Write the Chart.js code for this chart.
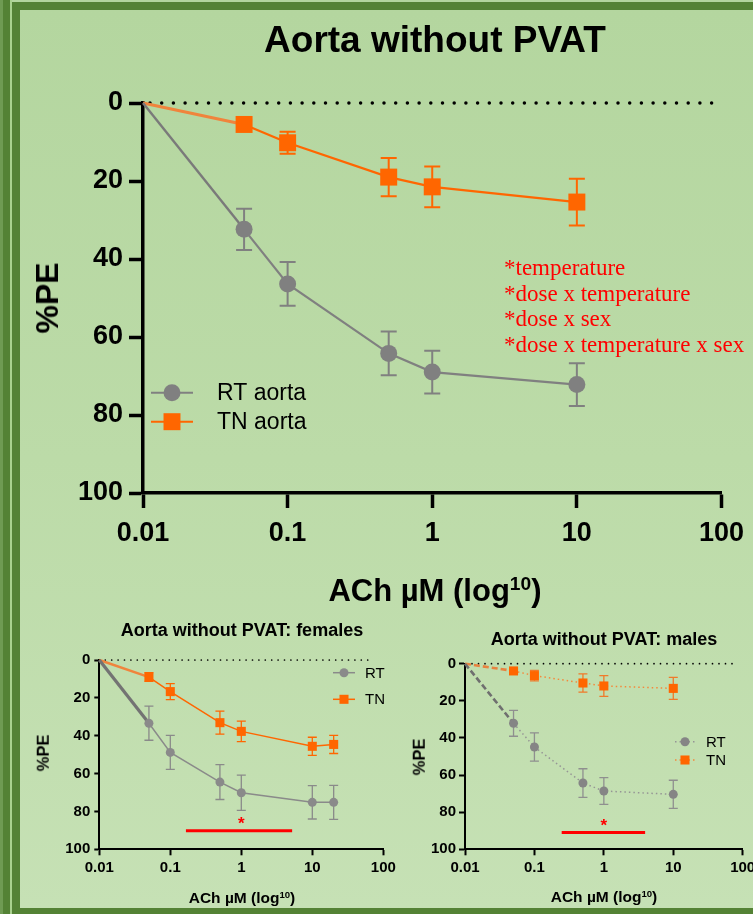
<!DOCTYPE html>
<html>
<head>
<meta charset="utf-8">
<script src="https://cdn.jsdelivr.net/npm/chart.js@4.4.1/dist/chart.umd.min.js"></script>
<style>
  body { margin: 0; width: 753px; height: 914px; overflow: hidden; position: relative;
         font-family: "Liberation Sans", Arial, sans-serif; background: #b3d59e; }
  .bar { position: absolute; top: 0; bottom: 0; }
  #panel { position: absolute; left: 12px; top: 2px; right: 0; bottom: 0;
           border-left: 8px solid #548235; border-top: 8px solid #548235; border-bottom: 6px solid #548235;
           background: linear-gradient(#b4d69f, #bcdba8 50%, #c6e1b5); }
  canvas { position: absolute; }
  .txt { position: absolute; color: #000; font-weight: bold; white-space: nowrap; line-height: 1; }
  .ctr { text-align: center; }
  .rot { transform: translate(-50%, -50%) rotate(-90deg); }
  sup { font-size: 0.62em; vertical-align: 0; position: relative; top: -0.55em; }
  #notes { position: absolute; left: 504px; top: 255px; color: #ff0000;
           font-family: "Liberation Serif", "DejaVu Serif", serif; font-size: 23px; line-height: 25.7px; }
</style>
</head>
<body>
<div class="bar" style="left:0;width:3px;background:#6f9b53"></div>
<div class="bar" style="left:3px;width:7px;background:#548235"></div>
<div class="bar" style="left:10px;width:2px;background:#a9d18e"></div>
<div id="panel"></div>

<canvas id="main" width="753" height="560" style="left:0;top:0"></canvas>
<canvas id="fem" width="400" height="290" style="left:0;top:600px"></canvas>
<canvas id="male" width="380" height="290" style="left:395px;top:600px"></canvas>

<div class="txt ctr" style="left:135px;width:600px;top:21px;font-size:37px">Aorta without PVAT</div>
<div class="txt rot" style="left:47px;top:298px;font-size:32px">%PE</div>
<div class="txt ctr" style="left:135px;width:600px;top:575px;font-size:31px">ACh µM (log<sup>10</sup>)</div>
<div id="notes"></div>

<div class="txt ctr" style="left:42px;width:400px;top:621px;font-size:18px">Aorta without PVAT: females</div>
<div class="txt rot" style="left:43px;top:753px;font-size:16.5px">%PE</div>
<div class="txt ctr" style="left:42px;width:400px;top:890px;font-size:15.5px">ACh µM (log<sup>10</sup>)</div>

<div class="txt ctr" style="left:404px;width:400px;top:630px;font-size:18px">Aorta without PVAT: males</div>
<div class="txt rot" style="left:419px;top:757px;font-size:16.5px">%PE</div>
<div class="txt ctr" style="left:404px;width:400px;top:889px;font-size:15.5px">ACh µM (log<sup>10</sup>)</div>

<script>
// ---- data ----
const xTicks = [0.01, 0.1, 1, 10, 100];
const xTickLabels = ['0.01', '0.1', '1', '10', '100'];
const yTicks = [0, 20, 40, 60, 80, 100];

const mainDoses = [0.01, 0.05, 0.1, 0.5, 1, 10];
const mainRT = [0, 32.4, 46.4, 64.2, 69.0, 72.2];
const mainRTerr = [0, 5.3, 5.6, 5.6, 5.5, 5.5];
const mainTN = [0, 5.5, 10.2, 19.0, 21.5, 25.4];
const mainTNerr = [0, 1, 2.8, 4.9, 5.2, 6.0];

const femDoses = [0.01, 0.05, 0.1, 0.5, 1, 10, 20];
const femRT = [0, 33.4, 48.8, 64.5, 70.1, 75.2, 75.2];
const femRTerr = [0, 9, 9, 9.2, 9.3, 8.8, 9];
const femTN = [0, 9, 16.7, 33.1, 37.7, 45.6, 44.6];
const femTNerr = [0, 2.3, 4.2, 6.1, 5.4, 4.8, 4.8];

const maleDoses = [0.01, 0.05, 0.1, 0.5, 1, 10];
const maleRT = [0, 32.1, 44.9, 64.3, 68.6, 70.4];
const maleRTerr = [0, 7, 7.6, 7.7, 7.2, 7.6];
const maleTN = [0, 3.9, 6.4, 10.4, 12, 13.3];
const maleTNerr = [0, 1, 2.8, 4.9, 5.6, 5.9];

// significance bar: from dose, to dose, %PE level, star at dose
const femSig = [0.166, 5.2, 90.2, 1];
const maleSig = [0.247, 3.93, 91, 1];

const notes = ['*temperature', '*dose x temperature', '*dose x sex', '*dose x temperature x sex'];

document.getElementById('notes').innerHTML = notes.map(n => '<div>' + n + '</div>').join('');

const ORANGE = '#ff6600';
const GREY = '#808080';
const FONT = '"Liberation Sans", Arial, sans-serif';
Chart.defaults.font.family = FONT;

const pts = (xs, ys) => xs.map((x, i) => ({ x: x, y: ys[i] }));

function drawMark(ctx, style, x, y, r) {
    ctx.beginPath();
    if (style === 'rect') {
        const s = r * Math.SQRT1_2;
        ctx.rect(x - s, y - s, 2 * s, 2 * s);
    } else {
        ctx.arc(x, y, r, 0, Math.PI * 2);
    }
    ctx.fill();
}

// error bars, dotted zero line, significance bar and legend
const extras = {
    id: 'extras',
    beforeDatasetsDraw(chart, args, o) {
        const { ctx, chartArea: a, scales: { x, y } } = chart;
        ctx.save();
        const y0 = y.getPixelForValue(0);
        ctx.strokeStyle = '#000';
        ctx.lineWidth = o.dotSize;
        ctx.lineCap = 'round';
        ctx.setLineDash([0, o.dotGap]);
        ctx.beginPath();
        ctx.moveTo(a.left + o.dotStart, y0);
        ctx.lineTo(a.right - o.dotEnd, y0);
        ctx.stroke();
        ctx.setLineDash([]);
        ctx.lineCap = 'butt';

        chart.data.datasets.forEach((ds, i) => {
            const meta = chart.getDatasetMeta(i);
            ctx.strokeStyle = ds.barColor;
            ctx.lineWidth = o.barWidth;
            meta.data.forEach((pt, j) => {
                const e = ds.errors[j];
                if (!e) return;
                const v = ds.data[j].y;
                const t = y.getPixelForValue(v - e), b = y.getPixelForValue(v + e);
                ctx.beginPath();
                ctx.moveTo(pt.x, t); ctx.lineTo(pt.x, b);
                ctx.moveTo(pt.x - o.cap, t); ctx.lineTo(pt.x + o.cap, t);
                ctx.moveTo(pt.x - o.cap, b); ctx.lineTo(pt.x + o.cap, b);
                ctx.stroke();
            });
        });
        ctx.restore();
    },
    afterDatasetsDraw(chart, args, o) {
        const { ctx, scales: { x, y } } = chart;
        ctx.save();
        if (o.sig) {
            const ys = y.getPixelForValue(o.sig[2]);
            ctx.strokeStyle = '#ff0000';
            ctx.lineWidth = 3;
            ctx.beginPath();
            ctx.moveTo(x.getPixelForValue(o.sig[0]), ys);
            ctx.lineTo(x.getPixelForValue(o.sig[1]), ys);
            ctx.stroke();
            ctx.fillStyle = '#ff0000';
            ctx.font = 'bold 17px ' + FONT;
            ctx.textAlign = 'center';
            ctx.textBaseline = 'middle';
            ctx.fillText('*', x.getPixelForValue(o.sig[3]), ys - 6);
        }
        const L = o.legend;
        chart.data.datasets.forEach((ds, i) => {
            const yy = L.y + i * L.gap;
            ctx.strokeStyle = ds.legendLine;
            ctx.lineWidth = L.lineWidth;
            ctx.setLineDash(ds.legendDash || []);
            ctx.beginPath();
            ctx.moveTo(L.x, yy);
            ctx.lineTo(L.x + L.len, yy);
            ctx.stroke();
            ctx.setLineDash([]);
            ctx.fillStyle = ds.legendMark;
            drawMark(ctx, ds.pointStyle, L.x + L.len / 2, yy, ds.markR);
            ctx.fillStyle = '#000';
            ctx.font = L.font + 'px ' + FONT;
            ctx.textAlign = 'left';
            ctx.textBaseline = 'middle';
            ctx.fillText(ds.label, L.textX, yy + 1);
        });
        ctx.restore();
    }
};

function scales(s) {
    return {
        x: {
            type: 'logarithmic', min: 0.01, max: 100,
            afterBuildTicks: sc => { sc.ticks = xTicks.map(v => ({ value: v })); },
            afterFit: sc => { sc.height = s.xh; },
            ticks: { callback: (v, i) => xTickLabels[i], autoSkip: false, maxRotation: 0,
                     font: { size: s.fs, weight: 'bold' }, color: '#000', padding: s.xpad },
            grid: { drawOnChartArea: false, tickLength: s.xtl, tickWidth: s.aw, tickColor: '#000' },
            border: { color: '#000', width: s.aw }
        },
        y: {
            type: 'linear', reverse: true, min: 0, max: 100,
            afterBuildTicks: sc => { sc.ticks = yTicks.map(v => ({ value: v })); },
            afterFit: sc => { sc.width = s.yw; },
            ticks: { font: { size: s.fs, weight: 'bold' }, color: '#000', padding: s.ypad },
            grid: { drawOnChartArea: false, tickLength: s.ytl, tickWidth: s.aw, tickColor: '#000' },
            border: { color: '#000', width: s.aw }
        }
    };
}

function series(label, xs, ys, errs, st) {
    return {
        label: label, data: pts(xs, ys), errors: errs, markR: st.r,
        borderColor: st.color, barColor: st.bar || st.color,
        legendLine: st.color, legendDash: st.dash, legendMark: st.mark || st.color,
        borderWidth: st.lw, borderDash: st.dash || [],
        pointStyle: st.shape, pointBackgroundColor: st.mark || st.color, pointBorderWidth: 0,
        pointRadius: ctx => ctx.dataIndex === 0 ? 0 : st.r,   // no marker at the origin
        pointHoverRadius: ctx => ctx.dataIndex === 0 ? 0 : st.r,
        segment: {
            borderColor: c => c.p0DataIndex === 0 ? st.firstColor : undefined,
            borderWidth: c => c.p0DataIndex === 0 ? st.firstWidth : undefined,
            borderDash: c => c.p0DataIndex === 0 ? st.firstDash : undefined
        },
        tension: 0, clip: false
    };
}

function build(id, datasets, s, extra) {
    new Chart(document.getElementById(id), {
        type: 'line',
        data: { datasets: datasets },
        options: {
            responsive: false, animation: false, events: [],
            layout: { padding: s.pad },
            scales: scales(s),
            plugins: { legend: { display: false }, tooltip: { enabled: false }, extras: extra }
        },
        plugins: [extras]
    });
}

// main chart
build('main', [
    series('RT aorta', mainDoses, mainRT, mainRTerr,
        { color: GREY, lw: 2.2, shape: 'circle', r: 8.5, firstColor: '#7a7a7a', firstWidth: 2.4, firstDash: [] }),
    series('TN aorta', mainDoses, mainTN, mainTNerr,
        { color: ORANGE, lw: 2.2, shape: 'rect', r: 12, firstColor: '#f0843c', firstWidth: 3, firstDash: [] })
], { pad: { top: 103, left: 0, right: 27, bottom: 0 }, xh: 67, yw: 143, fs: 27, aw: 3.5,
     xtl: 15, ytl: 14, xpad: 9, ypad: 6 },
   { dotSize: 3.5, dotGap: 11.7, dotStart: 7, dotEnd: 8, barWidth: 2, cap: 8,
     legend: { x: 151, y: 392.7, gap: 29, len: 42, lineWidth: 2, font: 23, textX: 217 } });

// females
build('fem', [
    series('RT', femDoses, femRT, femRTerr,
        { color: '#8a8a8a', lw: 1.5, shape: 'circle', r: 4.5, firstColor: '#737373', firstWidth: 3.2, firstDash: [] }),
    series('TN', femDoses, femTN, femTNerr,
        { color: ORANGE, lw: 1.5, shape: 'rect', r: 6.4, firstColor: '#f0843c', firstWidth: 2.4, firstDash: [] })
], { pad: { top: 60, left: 0, right: 16.7, bottom: 0 }, xh: 40.7, yw: 99.3, fs: 15, aw: 2,
     xtl: 6, ytl: 5, xpad: 4, ypad: 4 },
   { dotSize: 1.7, dotGap: 6.4, dotStart: 6, dotEnd: 13, barWidth: 1.3, cap: 4.5, sig: femSig,
     legend: { x: 333, y: 72.7, gap: 26.6, len: 22, lineWidth: 1.5, font: 15, textX: 365 } });

// males
build('male', [
    series('RT', maleDoses, maleRT, maleRTerr,
        { color: '#959595', lw: 1.5, dash: [1.5, 3], shape: 'circle', r: 4.5, mark: '#858585', bar: '#8f8f8f',
          firstColor: '#6f6f6f', firstWidth: 2.6, firstDash: [6, 3] }),
    series('TN', maleDoses, maleTN, maleTNerr,
        { color: '#f5883a', lw: 1.5, dash: [1.5, 3], shape: 'rect', r: 6.4, mark: ORANGE, bar: '#f07a2a',
          firstColor: '#e8823f', firstWidth: 2.6, firstDash: [6, 3] })
], { pad: { top: 63.7, left: 0, right: 32.3, bottom: 0 }, xh: 40.7, yw: 70, fs: 15, aw: 2,
     xtl: 6, ytl: 6, xpad: 4, ypad: 3 },
   { dotSize: 1.7, dotGap: 6.5, dotStart: 7, dotEnd: 5, barWidth: 1.3, cap: 4.5, sig: maleSig,
     legend: { x: 280, y: 141.7, gap: 18.3, len: 20, lineWidth: 1.5, font: 15, textX: 311 } });
</script>
</body>
</html>
